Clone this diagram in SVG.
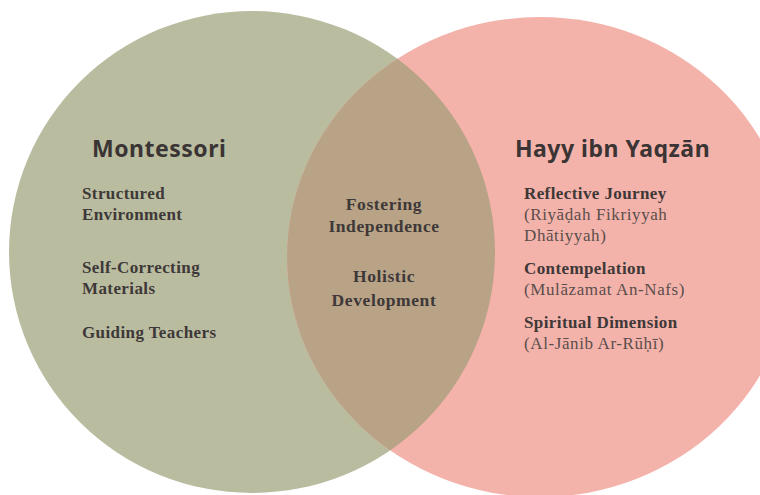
<svg xmlns="http://www.w3.org/2000/svg" width="760" height="495" viewBox="0 0 760 495">
<style>
.h{font-family:"Noto Sans","DejaVu Sans",sans-serif;font-weight:700;font-size:23px;letter-spacing:0.5px;fill:#3a3434}
.b{font-family:"Liberation Serif","DejaVu Serif",serif;font-weight:700;font-size:17px;letter-spacing:0.4px;fill:#3e3838}
.c{font-family:"Liberation Serif","DejaVu Serif",serif;font-weight:700;font-size:17.5px;letter-spacing:0.6px;fill:#3e3838;text-anchor:middle}
.n{font-family:"Liberation Serif","DejaVu Serif",serif;font-size:17px;letter-spacing:0.6px;fill:#5a4e4c}
</style>
<defs>
<clipPath id="lc"><ellipse cx="252" cy="252" rx="243" ry="241"/></clipPath>
</defs>
<rect width="760" height="495" fill="#ffffff"/>
<g id="montessori">
<ellipse cx="252" cy="252" rx="243" ry="241" fill="#babca0"/>
</g>
<g id="hayy">
<ellipse cx="540" cy="257" rx="253" ry="240" fill="#f4b3aa"/>
</g>
<g id="overlap">
<ellipse cx="540" cy="257" rx="253" ry="240" fill="#b8a387" clip-path="url(#lc)"/>
</g>
<g id="connectors"></g>
<g id="labels-left">
<text class="h" x="92" y="157">Montessori</text>
<text class="b" x="82" y="199">Structured</text>
<text class="b" x="82" y="220">Environment</text>
<text class="b" x="82" y="273">Self-Correcting</text>
<text class="b" x="82" y="294">Materials</text>
<text class="b" x="82" y="338">Guiding Teachers</text>
</g>
<g id="labels-center">
<text class="c" x="384" y="210">Fostering</text>
<text class="c" x="384" y="232">Independence</text>
<text class="c" x="384" y="282">Holistic</text>
<text class="c" x="384" y="306">Development</text>
</g>
<g id="labels-right">
<text class="h" x="515" y="157">Hayy ibn Yaqzān</text>
<text class="b" x="524" y="199">Reflective Journey</text>
<text class="n" x="524" y="220">(Riyāḍah Fikriyyah</text>
<text class="n" x="524" y="241">Dhātiyyah)</text>
<text class="b" x="524" y="274">Contempelation</text>
<text class="n" x="524" y="295">(Mulāzamat An-Nafs)</text>
<text class="b" x="524" y="328">Spiritual Dimension</text>
<text class="n" x="524" y="349">(Al-Jānib Ar-Rūḥī)</text>
</g>
</svg>
